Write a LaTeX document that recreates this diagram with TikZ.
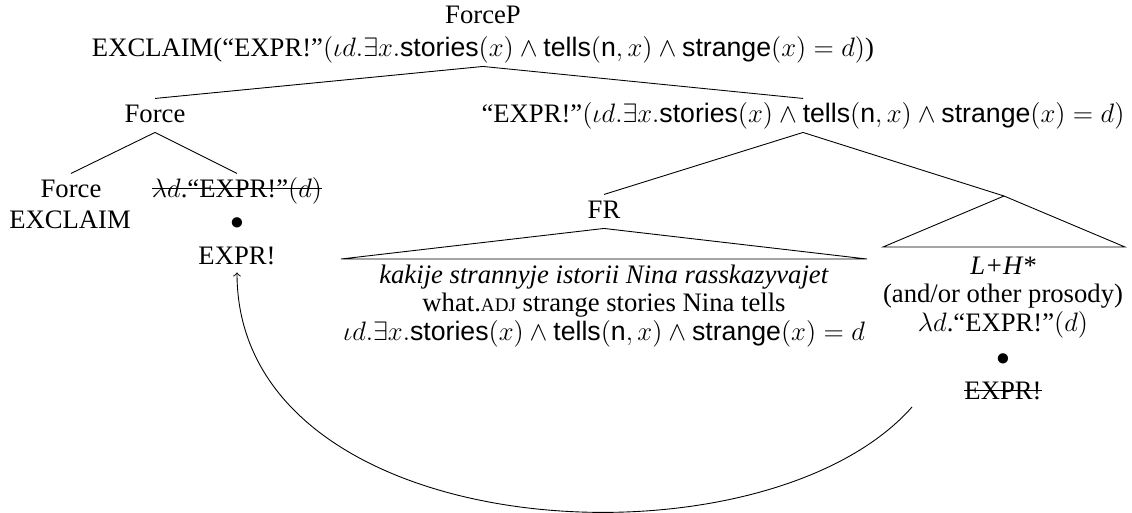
\documentclass[tikz,border=0pt]{standalone}
\usepackage{fontspec}
\setmainfont{Liberation Serif}
\setsansfont{Liberation Sans}
\newsavebox{\strkbox}
\newcommand{\strk}[1]{\sbox{\strkbox}{#1}\rlap{\raisebox{3.8pt}{\rule{\wd\strkbox}{0.45pt}}}\usebox{\strkbox}}
\newcommand{\sfm}[1]{\textsf{#1}}
\begin{document}
\begin{tikzpicture}[x=0.45pt,y=-0.45pt,line width=0.4pt,
  font=\fontsize{12}{14.5}\selectfont,
  tn/.style={inner sep=0pt,anchor=base,text height=10.4pt,text depth=4.5pt},
  lf/.style={inner sep=0pt,anchor=base}]
\useasboundingbox (0,0) rectangle (1132,512);
% root
\node[lf] (forceP) at (483,23) {ForceP};
\node[tn] (top) at (483,56) {EXCLAIM(“EXPR!”$(\iota d.\exists x.\sfm{stories}(x)\wedge\sfm{tells}(\sfm{n},x)\wedge\sfm{strange}(x)=d)$)};
\node[tn] (force) at (155,122) {Force};
\node[tn] (rhs) at (803,122) {“EXPR!”$(\iota d.\exists x.\sfm{stories}(x)\wedge\sfm{tells}(\sfm{n},x)\wedge\sfm{strange}(x)=d)$};
\draw (top.south) -- (force.north);
\draw (top.south) -- (rhs.north);
% Force subtree
\node[tn] (forceC) at (71,197) {Force};
\node[lf] (exclC) at (70,228) {EXCLAIM};
\node[tn] (lamL) at (237,197) {\strk{$\lambda d$.“EXPR!”$(d)$}};
\node[lf] (bulL) at (237,229) {$\bullet$};
\node[lf,text depth=3.6pt] (exprL) at (237,264) {EXPR!};
\draw (force.south) -- (forceC.north);
\draw (force.south) -- (lamL.north);
% FR subtree
\node[tn] (fr) at (604,218) {FR};
\coordinate (frL) at (341,259);
\coordinate (frR) at (867,259);
\draw (fr.south) -- (frL) -- (frR) -- cycle;
\node[lf] (fr1) at (604,283) {\textit{kakije strannyje istorii Nina rasskazyvajet}};
\node[lf] (fr2) at (604,311) {what.{\fontsize{8.6}{10}\selectfont ADJ} strange stories Nina tells};
\node[lf] (fr3) at (604,340) {$\iota d.\exists x.\sfm{stories}(x)\wedge\sfm{tells}(\sfm{n},x)\wedge\sfm{strange}(x)=d$};
% prosody subtree
\coordinate (rA) at (1004,196);
\coordinate (rL) at (883,247);
\coordinate (rR) at (1125,247);
\draw (rhs.south) -- (fr.north);
\draw (rhs.south) -- (rA);
\draw (rA) -- (rL) -- (rR) -- cycle;
\node[lf] (lh) at (1003,274) {\textit{L+H*}};
\node[lf] (pros) at (1003,302) {(and/or other prosody)};
\node[lf] (lamR) at (1003,331) {$\lambda d$.“EXPR!”$(d)$};
\node[lf] (bulR) at (1003,365) {$\bullet$};
\node[lf] (exprR) at (1003,399) {\strk{EXPR!}};
% movement arrow
\coordinate (cS) at (912,407);
\draw[->] (cS) .. controls +(-150,170) and +(0,275) .. (exprL.south);
\end{tikzpicture}
\end{document}
